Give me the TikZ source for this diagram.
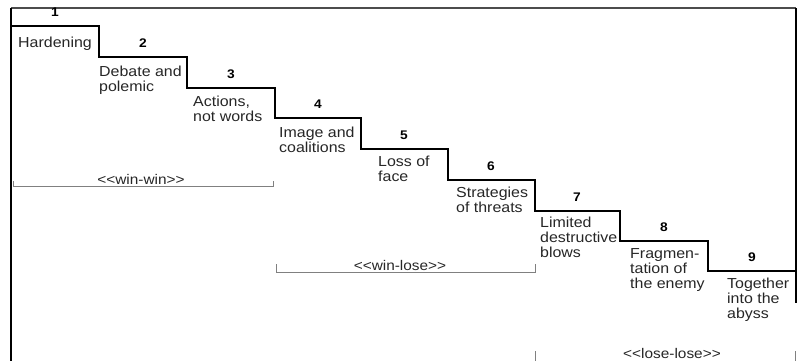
\documentclass[tikz,border=0pt]{standalone}
\usepackage{fontspec}
\setmainfont[FakeStretch=1.1]{Liberation Sans}
\begin{document}
\begin{tikzpicture}[x=1pt,y=-1pt,
  stair/.style={line width=2.4pt, line join=miter},
  framel/.style={line width=2.6pt},
  steptext/.style={anchor=base west, align=left, inner sep=0pt,
    font=\fontsize{14.5}{15}\selectfont, text=black!85},
  stepnum/.style={anchor=base, inner sep=0pt,
    font=\fontsize{12.5}{12.5}\selectfont\bfseries},
  bracket/.style={black!50, line width=0.9pt},
  zone/.style={anchor=base, inner sep=0pt,
    font=\fontsize{14}{14}\selectfont, text=black!85}]
\useasboundingbox (0,0) rectangle (798,360);

% outer frame
\draw[black!70, line width=1.2pt] (11,8) -- (796,8);
\draw[framel] (11,8) -- (11,361);
\draw[framel] (796,8) -- (796,303);

% corner points of the escalation staircase
\coordinate (c0) at (11,26);
\coordinate (c1) at (99,57);
\coordinate (c2) at (187,88);
\coordinate (c3) at (275,118);
\coordinate (c4) at (361,149);
\coordinate (c5) at (448,180);
\coordinate (c6) at (535,211);
\coordinate (c7) at (620,241);
\coordinate (c8) at (708,271);
\coordinate (c9) at (796,271);

\draw[stair] (c0) -| (c1) -| (c2) -| (c3) -| (c4) -| (c5) -| (c6)
  -| (c7) -| (c8) -- (c9);

% step numbers
\node[stepnum] (n1) at (55,16) {1};
\node[stepnum] (n2) at (143,47) {2};
\node[stepnum] (n3) at (231,78) {3};
\node[stepnum] (n4) at (318,108) {4};
\node[stepnum] (n5) at (404,139) {5};
\node[stepnum] (n6) at (491,170) {6};
\node[stepnum] (n7) at (577,201) {7};
\node[stepnum] (n8) at (664,231) {8};
\node[stepnum] (n9) at (752,261) {9};

% step descriptions (anchored at the baseline of the last line)
\node[steptext] (t1) at (18,47) {Hardening};
\node[steptext] (t2) at (99,91) {Debate and\\polemic};
\node[steptext] (t3) at (193,121) {Actions,\\not words};
\node[steptext] (t4) at (279,152) {Image and\\coalitions};
\node[steptext] (t5) at (378,181) {Loss of\\face};
\node[steptext] (t6) at (456,212) {Strategies\\of threats};
\node[steptext] (t7) at (540,257) {Limited\\destructive\\blows};
\node[steptext] (t8) at (630,288) {Fragmen-\\tation of\\the enemy};
\node[steptext] (t9) at (727,318) {Together\\into the\\abyss};

% outcome ranges
\draw[bracket] (13,181) |- (273,186) -- (273,181);
\node[zone] (ww) at (141,184) {<{}<win-win>{}>};
\draw[bracket] (276,264) |- (535,272) -- (535,264);
\node[zone] (wl) at (400,270) {<{}<win-lose>{}>};
\draw[bracket] (535,351) |- (795,363) -- (795,351);
\node[zone] (ll) at (672,358) {<{}<lose-lose>{}>};
\end{tikzpicture}
\end{document}
